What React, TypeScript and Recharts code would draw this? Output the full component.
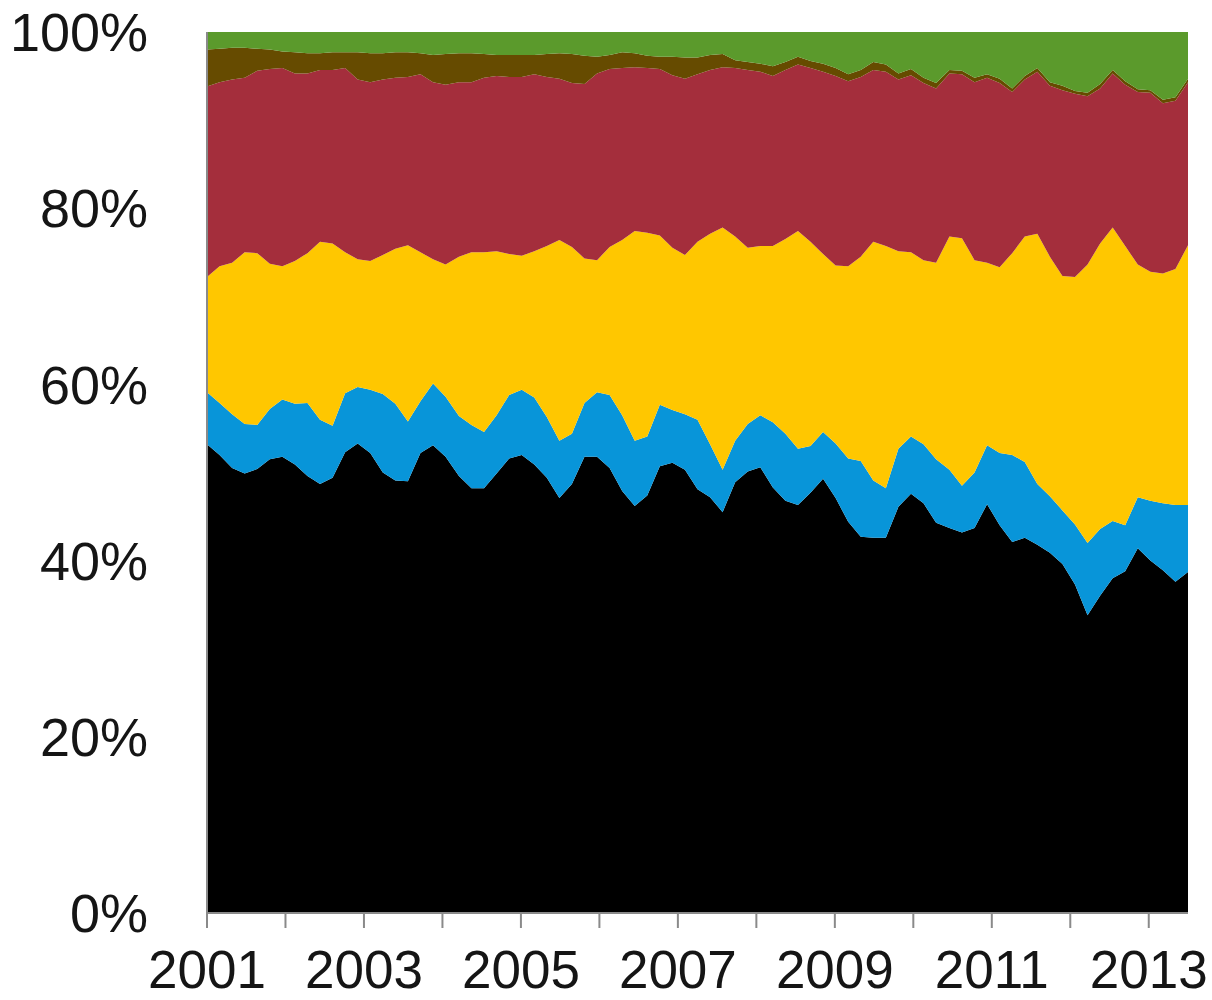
import React from 'react';
import { AreaChart, Area, XAxis, YAxis } from 'recharts';

// decimal years of the sampled points
const dates = [
    2001.00, 2001.16, 2001.32, 2001.48, 2001.64, 2001.80, 2001.96, 2002.12, 2002.28, 2002.44,
    2002.60, 2002.76, 2002.92, 2003.08, 2003.24, 2003.40, 2003.56, 2003.72, 2003.88, 2004.04,
    2004.21, 2004.37, 2004.53, 2004.69, 2004.85, 2005.01, 2005.17, 2005.33, 2005.49, 2005.65,
    2005.81, 2005.97, 2006.13, 2006.29, 2006.45, 2006.61, 2006.77, 2006.93, 2007.09, 2007.25,
    2007.41, 2007.57, 2007.73, 2007.89, 2008.05, 2008.21, 2008.37, 2008.53, 2008.69, 2008.85,
    2009.01, 2009.17, 2009.33, 2009.49, 2009.65, 2009.81, 2009.97, 2010.13, 2010.29, 2010.46,
    2010.62, 2010.78, 2010.94, 2011.10, 2011.26, 2011.42, 2011.58, 2011.74, 2011.90, 2012.06,
    2012.22, 2012.38, 2012.54, 2012.70, 2012.86, 2013.02, 2013.18, 2013.34, 2013.50,
];

// share of each layer, bottom to top (percent)
const black = [
    53.2, 52.0, 50.5, 49.9, 50.4, 51.5, 51.8, 50.9, 49.6, 48.7,
    49.4, 52.3, 53.3, 52.2, 50.0, 49.1, 49.0, 52.2, 53.1, 51.8,
    49.6, 48.2, 48.2, 49.9, 51.6, 52.0, 50.9, 49.4, 47.1, 48.7,
    51.8, 51.8, 50.5, 47.9, 46.2, 47.4, 50.7, 51.1, 50.3, 48.1,
    47.2, 45.5, 48.9, 50.1, 50.6, 48.3, 46.8, 46.3, 47.7, 49.3,
    47.1, 44.4, 42.7, 42.6, 42.6, 46.1, 47.6, 46.5, 44.3, 43.7,
    43.2, 43.7, 46.4, 44.0, 42.1, 42.6, 41.8, 40.9, 39.6, 37.3,
    33.8, 36.0, 38.0, 38.8, 41.4, 40.0, 38.9, 37.6, 38.7,
];
const blue = [
    5.9, 5.9, 6.1, 5.6, 5.0, 5.7, 6.5, 6.9, 8.3, 7.3,
    5.9, 6.7, 6.4, 7.2, 8.9, 8.7, 6.8, 5.9, 7.0, 6.8,
    6.8, 7.2, 6.4, 6.6, 7.2, 7.4, 7.6, 6.9, 6.5, 5.7,
    6.1, 7.3, 8.3, 8.6, 7.4, 6.7, 7.0, 6.0, 6.3, 7.9,
    6.0, 4.8, 4.7, 5.4, 5.9, 7.4, 7.6, 6.4, 5.3, 5.3,
    6.2, 7.2, 8.6, 6.5, 5.6, 6.6, 6.5, 6.7, 7.2, 6.6,
    5.3, 6.3, 6.7, 8.2, 9.9, 8.6, 6.9, 6.4, 6.1, 6.8,
    8.2, 7.6, 6.5, 5.2, 5.8, 6.8, 7.6, 8.7, 7.6,
];
const yellow = [
    13.1, 15.5, 17.2, 19.5, 19.5, 16.5, 15.1, 16.2, 17.0, 20.2,
    20.7, 16.0, 14.5, 14.6, 15.8, 17.6, 20.0, 16.9, 14.1, 15.0,
    18.1, 19.6, 20.4, 18.6, 16.0, 15.2, 16.6, 19.4, 22.8, 21.2,
    16.4, 15.0, 16.8, 19.9, 23.8, 23.1, 19.2, 18.4, 18.1, 20.2,
    23.9, 27.5, 23.2, 20.0, 19.2, 20.0, 22.1, 24.7, 23.2, 20.2,
    20.2, 21.8, 23.2, 27.1, 27.5, 22.4, 20.9, 20.9, 22.3, 26.5,
    28.1, 24.1, 20.7, 21.1, 22.9, 25.6, 28.4, 27.2, 26.6, 28.1,
    31.6, 32.4, 33.3, 31.7, 26.4, 26.0, 26.1, 26.8, 29.5,
];
const red = [
    21.6, 20.9, 20.8, 19.8, 20.7, 22.1, 22.5, 21.3, 20.4, 19.5,
    19.7, 20.9, 20.4, 20.3, 19.9, 19.4, 19.1, 20.2, 20.1, 20.4,
    19.8, 19.3, 19.8, 19.9, 20.1, 20.3, 20.1, 19.2, 18.3, 18.6,
    19.8, 21.2, 20.2, 19.5, 18.6, 18.7, 18.9, 19.6, 20.0, 19.0,
    18.6, 18.2, 19.1, 20.2, 19.8, 19.3, 19.2, 18.9, 19.7, 20.7,
    21.5, 21.0, 20.4, 19.5, 19.8, 19.5, 20.1, 20.1, 19.8, 18.5,
    18.6, 20.2, 21.0, 20.9, 18.3, 17.8, 18.4, 19.4, 21.1, 20.8,
    19.1, 17.6, 17.5, 18.3, 19.6, 20.3, 19.3, 19.1, 18.5,
];
const brown = [
    4.2, 3.8, 3.6, 3.4, 2.5, 2.2, 1.9, 2.4, 2.3, 1.9,
    2.0, 1.8, 3.1, 3.3, 3.0, 2.9, 2.8, 2.4, 3.1, 3.5,
    3.3, 3.3, 2.7, 2.4, 2.5, 2.5, 2.2, 2.6, 2.9, 3.3,
    3.2, 1.9, 1.6, 1.8, 1.6, 1.4, 1.4, 2.1, 2.4, 1.9,
    1.7, 1.5, 0.9, 0.9, 0.9, 1.1, 0.9, 0.9, 0.8, 0.9,
    0.9, 0.8, 0.8, 0.9, 0.8, 0.7, 0.7, 0.6, 0.6, 0.4,
    0.4, 0.5, 0.4, 0.5, 0.4, 0.4, 0.4, 0.4, 0.5, 0.3,
    0.4, 0.5, 0.4, 0.4, 0.3, 0.3, 0.4, 0.4, 0.4,
];
const green = [
    2.0, 1.9, 1.8, 1.8, 1.9, 2.0, 2.2, 2.3, 2.4, 2.4,
    2.3, 2.3, 2.3, 2.4, 2.4, 2.3, 2.3, 2.4, 2.6, 2.5,
    2.4, 2.4, 2.5, 2.6, 2.6, 2.6, 2.6, 2.5, 2.4, 2.5,
    2.7, 2.8, 2.6, 2.3, 2.4, 2.7, 2.8, 2.8, 2.9, 2.9,
    2.6, 2.5, 3.2, 3.4, 3.6, 3.9, 3.4, 2.8, 3.3, 3.6,
    4.1, 4.8, 4.3, 3.4, 3.7, 4.7, 4.2, 5.2, 5.8, 4.3,
    4.4, 5.2, 4.8, 5.3, 6.4, 5.0, 4.1, 5.7, 6.1, 6.7,
    6.9, 5.9, 4.3, 5.6, 6.5, 6.6, 7.7, 7.4, 5.3,
];

const yearTicks = [2001, 2002, 2003, 2004, 2005, 2006, 2007, 2008, 2009, 2010, 2011, 2012, 2013];
const labelledYears = [2001, 2003, 2005, 2007, 2009, 2011, 2013];
const pctTicks = [0, 0.2, 0.4, 0.6, 0.8, 1];

const data = dates.map((t, i) => ({
    t,
    black: black[i],
    blue: blue[i],
    yellow: yellow[i],
    red: red[i],
    brown: brown[i],
    green: green[i],
}));

const layers = [
    { key: 'black', color: '#000000' },
    { key: 'blue', color: '#0895d9' },
    { key: 'yellow', color: '#ffc700' },
    { key: 'red', color: '#a42e3c' },
    { key: 'brown', color: '#664b00' },
    { key: 'green', color: '#5b9a2c' },
];

const yFont = { fontFamily: '"Liberation Sans", Arial, sans-serif', fontSize: 54, fill: '#151515' };
const xFont = { fontFamily: '"Liberation Sans", Arial, sans-serif', fontSize: 53, fill: '#151515' };

export default function App() {
    return (
        <div style={{ position: 'absolute', left: 0, top: 0, background: '#fff' }}>
            <AreaChart
                width={1212}
                height={1000}
                data={data}
                stackOffset="expand"
                margin={{ top: 32, right: 24, bottom: 0, left: 0 }}
            >
                <XAxis
                    dataKey="t"
                    type="number"
                    domain={[2001, 2013.5]}
                    ticks={yearTicks}
                    interval={0}
                    tickFormatter={(v: number) => labelledYears.includes(v) ? String(v) : ''}
                    height={87}
                    tickSize={15}
                    tickMargin={22}
                    axisLine={{ stroke: '#8a8a8a', strokeWidth: 2 }}
                    tickLine={{ stroke: '#8a8a8a', strokeWidth: 2 }}
                    tick={xFont}
                />
                <YAxis
                    type="number"
                    domain={[0, 1]}
                    ticks={pctTicks}
                    width={207}
                    tickSize={0}
                    tickMargin={59}
                    tickLine={false}
                    axisLine={{ stroke: '#8a8a8a', strokeWidth: 2 }}
                    tickFormatter={(v: number) => `${Math.round(v * 100)}%`}
                    tick={yFont}
                />
                {layers.map((l) => (
                    <Area
                        key={l.key}
                        type="linear"
                        dataKey={l.key}
                        stackId="1"
                        stroke="none"
                        fill={l.color}
                        fillOpacity={1}
                        isAnimationActive={false}
                    />
                ))}
            </AreaChart>
        </div>
    );
}
